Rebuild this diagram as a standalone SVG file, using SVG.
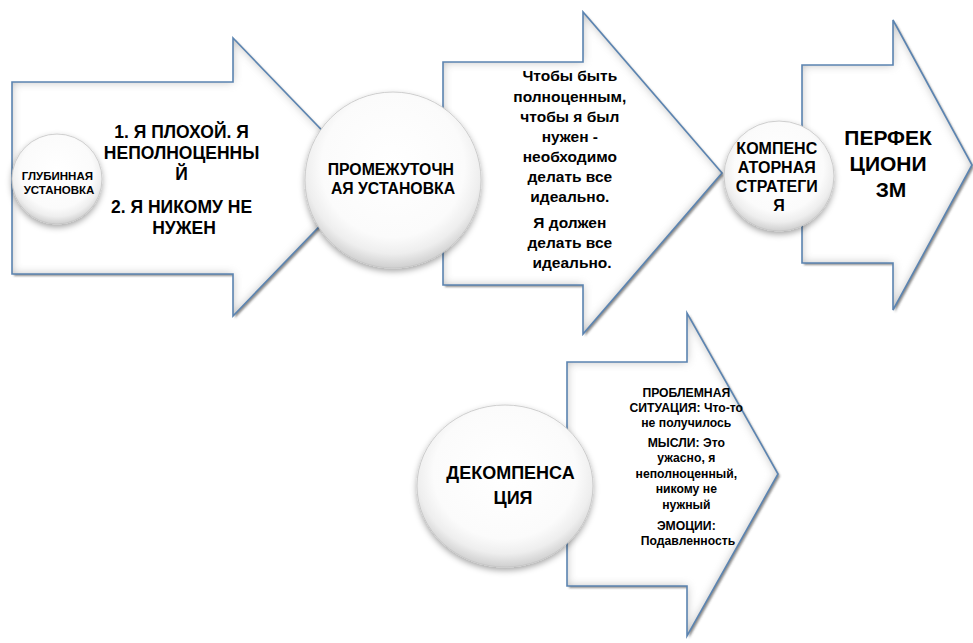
<svg xmlns="http://www.w3.org/2000/svg" width="973" height="643" viewBox="0 0 973 643">
  <defs>
    <style>
      .arrow-fill { fill: #ffffff; stroke: none; filter: url(#arrowFx); }
      .arrow-line { fill: none; stroke: #5b84b1; stroke-width: 1.6; stroke-linejoin: miter; }
      .bubble { fill: url(#bubbleGrad); stroke: #c4c4c4; stroke-width: 0.8; filter: url(#bubbleFx); }
      text { font-family: "Liberation Sans", Arial, sans-serif; font-weight: 700; fill: #000000; text-anchor: middle; }
    </style>
    <radialGradient id="bubbleGrad" cx="50%" cy="42%" r="58%">
      <stop offset="0" stop-color="#ffffff"/>
      <stop offset="0.7" stop-color="#fbfbfb"/>
      <stop offset="0.86" stop-color="#eeeeee"/>
      <stop offset="1" stop-color="#cfcfcf"/>
    </radialGradient>
    <filter id="arrowFx" x="-10%" y="-10%" width="125%" height="125%">
      <feGaussianBlur in="SourceAlpha" stdDeviation="5" result="blur"/>
      <feComposite in="SourceAlpha" in2="blur" operator="arithmetic" k2="1" k3="-1" result="edge"/>
      <feFlood flood-color="#8c8c8c" flood-opacity="0.75" result="gray"/>
      <feComposite in="gray" in2="edge" operator="in" result="inner"/>
      <feOffset in="SourceAlpha" dx="1.5" dy="1.5" result="off"/>
      <feGaussianBlur in="off" stdDeviation="1.2" result="offb"/>
      <feFlood flood-color="#404040" flood-opacity="0.6" result="sc"/>
      <feComposite in="sc" in2="offb" operator="in" result="shadow"/>
      <feMerge>
        <feMergeNode in="shadow"/>
        <feMergeNode in="SourceGraphic"/>
        <feMergeNode in="inner"/>
      </feMerge>
    </filter>
    <filter id="bubbleFx" x="-20%" y="-20%" width="140%" height="145%">
      <feOffset in="SourceAlpha" dx="0" dy="3" result="off"/>
      <feGaussianBlur in="off" stdDeviation="3" result="offb"/>
      <feFlood flood-color="#000000" flood-opacity="0.35" result="sc"/>
      <feComposite in="sc" in2="offb" operator="in" result="shadow"/>
      <feMerge>
        <feMergeNode in="shadow"/>
        <feMergeNode in="SourceGraphic"/>
      </feMerge>
    </filter>
  </defs>

  <rect width="973" height="643" fill="#ffffff"/>

  <!-- Arrow 1 -->
  <g id="arrow-beliefs">
    <path class="arrow-fill" d="M12,82 H233 V38 L367,177 L233,316 V274 H12 Z"/>
    <path class="arrow-line" d="M12,82 H233 V38 L367,177 L233,316 V274 H12 Z"/>
    <text font-size="17.5">
      <tspan x="184" y="138">1. Я ПЛОХОЙ. Я</tspan>
      <tspan x="184" y="159">НЕПОЛНОЦЕННЫ</tspan>
      <tspan x="184" y="180">Й</tspan>
      <tspan x="184" y="213">2. Я НИКОМУ НЕ</tspan>
      <tspan x="184" y="234">НУЖЕН</tspan>
    </text>
  </g>

  <!-- Arrow 2 -->
  <g id="arrow-rule">
    <path class="arrow-fill" d="M443,62 H583 V12 L722,173 L583,334 V285 H443 Z"/>
    <path class="arrow-line" d="M443,62 H583 V12 L722,173 L583,334 V285 H443 Z"/>
    <text font-size="15.5">
      <tspan x="572" y="80.5">Чтобы быть</tspan>
      <tspan x="572" y="101.5">полноценным,</tspan>
      <tspan x="572" y="122">чтобы я был</tspan>
      <tspan x="572" y="142">нужен -</tspan>
      <tspan x="572" y="162">необходимо</tspan>
      <tspan x="572" y="182">делать все</tspan>
      <tspan x="572" y="202">идеально.</tspan>
      <tspan x="572" y="227.5">Я должен</tspan>
      <tspan x="572" y="247.5">делать все</tspan>
      <tspan x="572" y="268">идеально.</tspan>
    </text>
  </g>

  <!-- Arrow 3 -->
  <g id="arrow-perfectionism">
    <path class="arrow-fill" d="M802,65 H893 V20 L972,165 L893,310 V263 H802 Z"/>
    <path class="arrow-line" d="M802,65 H893 V20 L972,165 L893,310 V263 H802 Z"/>
    <text font-size="21">
      <tspan x="891" y="144.5">ПЕРФЕК</tspan>
      <tspan x="891" y="170.5">ЦИОНИ</tspan>
      <tspan x="891" y="197">ЗМ</tspan>
    </text>
  </g>

  <!-- Arrow 4 -->
  <g id="arrow-situation">
    <path class="arrow-fill" d="M567,362 H687 V313 L778,474 L687,636 V586 H567 Z"/>
    <path class="arrow-line" d="M567,362 H687 V313 L778,474 L687,636 V586 H567 Z"/>
    <text font-size="12.2">
      <tspan x="688" y="397.4">ПРОБЛЕМНАЯ</tspan>
      <tspan x="688" y="412">СИТУАЦИЯ: Что-то</tspan>
      <tspan x="688" y="426.6">не получилось</tspan>
      <tspan x="688" y="447.4">МЫСЛИ: Это</tspan>
      <tspan x="688" y="462.4">ужасно, я</tspan>
      <tspan x="688" y="478.4">неполноценный,</tspan>
      <tspan x="688" y="493.4">никому не</tspan>
      <tspan x="688" y="509.4">нужный</tspan>
      <tspan x="688" y="530.4">ЭМОЦИИ:</tspan>
      <tspan x="688" y="545.4">Подавленность</tspan>
    </text>
  </g>

  <!-- Circle 1 -->
  <g id="circle-core">
    <circle class="bubble" cx="57" cy="179" r="45"/>
    <text font-size="11.5">
      <tspan x="59" y="180">ГЛУБИННАЯ</tspan>
      <tspan x="59" y="193.5">УСТАНОВКА</tspan>
    </text>
  </g>

  <!-- Circle 2 -->
  <g id="circle-intermediate">
    <circle class="bubble" cx="393" cy="180" r="88"/>
    <text font-size="15.8">
      <tspan x="393" y="175">ПРОМЕЖУТОЧН</tspan>
      <tspan x="393" y="194">АЯ УСТАНОВКА</tspan>
    </text>
  </g>

  <!-- Circle 3 -->
  <g id="circle-compensatory">
    <circle class="bubble" cx="779" cy="176" r="55"/>
    <text font-size="16">
      <tspan x="779" y="153.5">КОМПЕНС</tspan>
      <tspan x="779" y="172.5">АТОРНАЯ</tspan>
      <tspan x="779" y="191.5">СТРАТЕГИ</tspan>
      <tspan x="779" y="210.5">Я</tspan>
    </text>
  </g>

  <!-- Circle 4 -->
  <g id="circle-decompensation">
    <ellipse class="bubble" cx="505" cy="486" rx="88" ry="81"/>
    <text font-size="18">
      <tspan x="513" y="478.5">ДЕКОМПЕНСА</tspan>
      <tspan x="513" y="503.5">ЦИЯ</tspan>
    </text>
  </g>
</svg>
